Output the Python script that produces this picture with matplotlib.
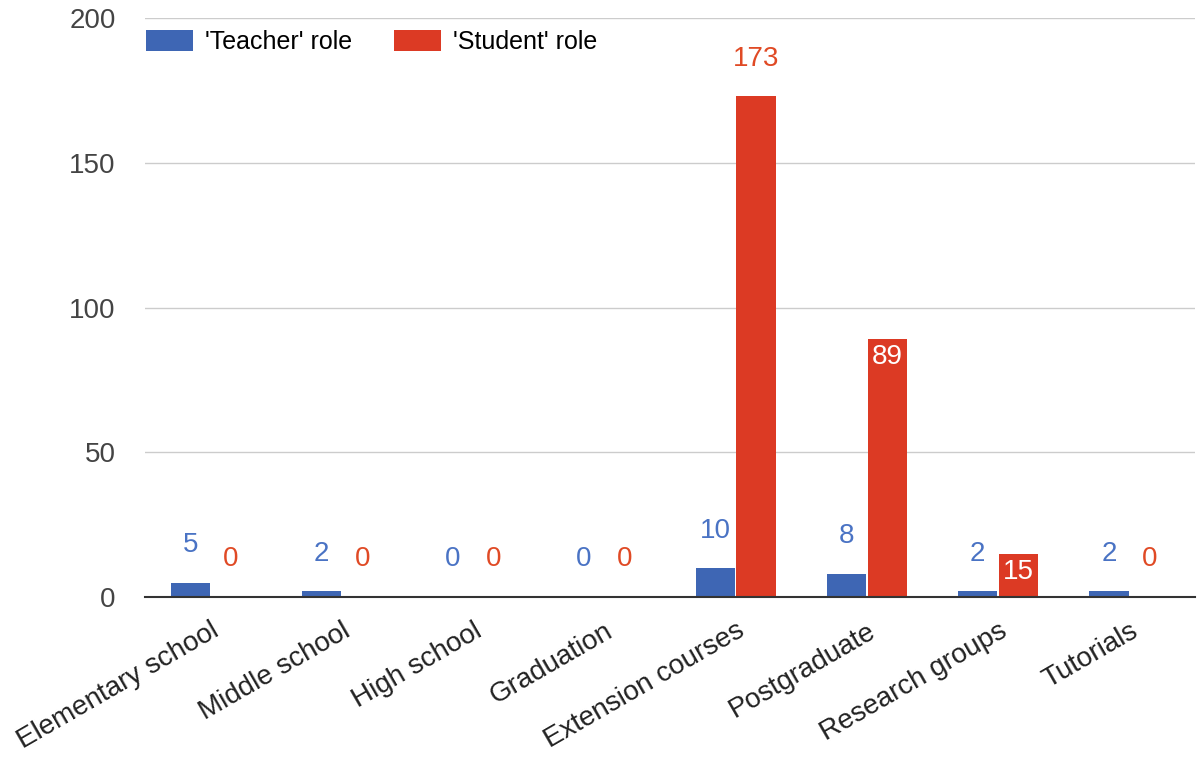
import matplotlib
matplotlib.use("Agg")
import matplotlib.pyplot as plt
import numpy as np

categories = ["Elementary school", "Middle school", "High school", "Graduation",
              "Extension courses", "Postgraduate", "Research groups", "Tutorials"]
teacher = [5, 2, 0, 0, 10, 8, 2, 2]
student = [0, 0, 0, 0, 173, 89, 15, 0]
series_names = ["'Teacher' role", "'Student' role"]
yticks = [0, 50, 100, 150, 200]

plt.rcParams['font.family'] = ['Liberation Sans', 'DejaVu Sans']

blue = "#3e66b4"
red = "#dc3a24"
blue_lbl = "#4a73c4"
red_lbl = "#e04a25"

fig = plt.figure(figsize=(12, 7.61), dpi=100)
ax = fig.add_axes([145/1200, 1-597/761, 1050/1200, 579/761])

x = np.arange(len(categories))
w = 0.3
off = 0.155
ax.bar(x - off, teacher, w, color=blue, label=series_names[0], zorder=3)
ax.bar(x + off, student, w, color=red, label=series_names[1], zorder=3)

ax.set_xlim(-0.5, len(categories) - 0.5)
ax.set_ylim(0, 200)
ax.set_yticks(yticks)
ax.tick_params(axis='y', length=0, labelsize=20, colors="#444444", pad=21)
ax.tick_params(axis='x', length=0, labelsize=20, colors="#222222", pad=15)
ax.set_xticks(x)
ax.set_xticklabels(categories, rotation=30, ha='right', rotation_mode='anchor')
ax.grid(axis='y', color="#cccccc", linewidth=1, zorder=0)
for s in ['top', 'right', 'left']:
    ax.spines[s].set_visible(False)
ax.spines['bottom'].set_color("#333333")
ax.spines['bottom'].set_linewidth(1.5)
ax.spines['bottom'].set_zorder(4)

def label(xc, v, col):
    ax.annotate(str(v), (xc, v), xytext=(0, 27), textcoords='offset points',
                ha='center', va='center', color=col, fontsize=20, zorder=5)

for xi, v in zip(x, teacher):
    label(xi - off, v, blue_lbl)
for xi, v in zip(x, student):
    if 15 <= v < 150:
        ax.annotate(str(v), (xi + off, v), xytext=(0, -13), textcoords='offset points',
                    ha='center', va='center', color='white', fontsize=20, zorder=5)
    else:
        label(xi + off, v, red_lbl)

leg = ax.legend(loc='center left', ncol=2, frameon=False, fontsize=18,
                bbox_to_anchor=(146/1200, 1-42/761), bbox_transform=fig.transFigure,
                handlelength=1.88, handleheight=0.88, borderpad=0,
                columnspacing=1.68, handletextpad=0.48, borderaxespad=0)

fig.savefig("out.png", dpi=100)
